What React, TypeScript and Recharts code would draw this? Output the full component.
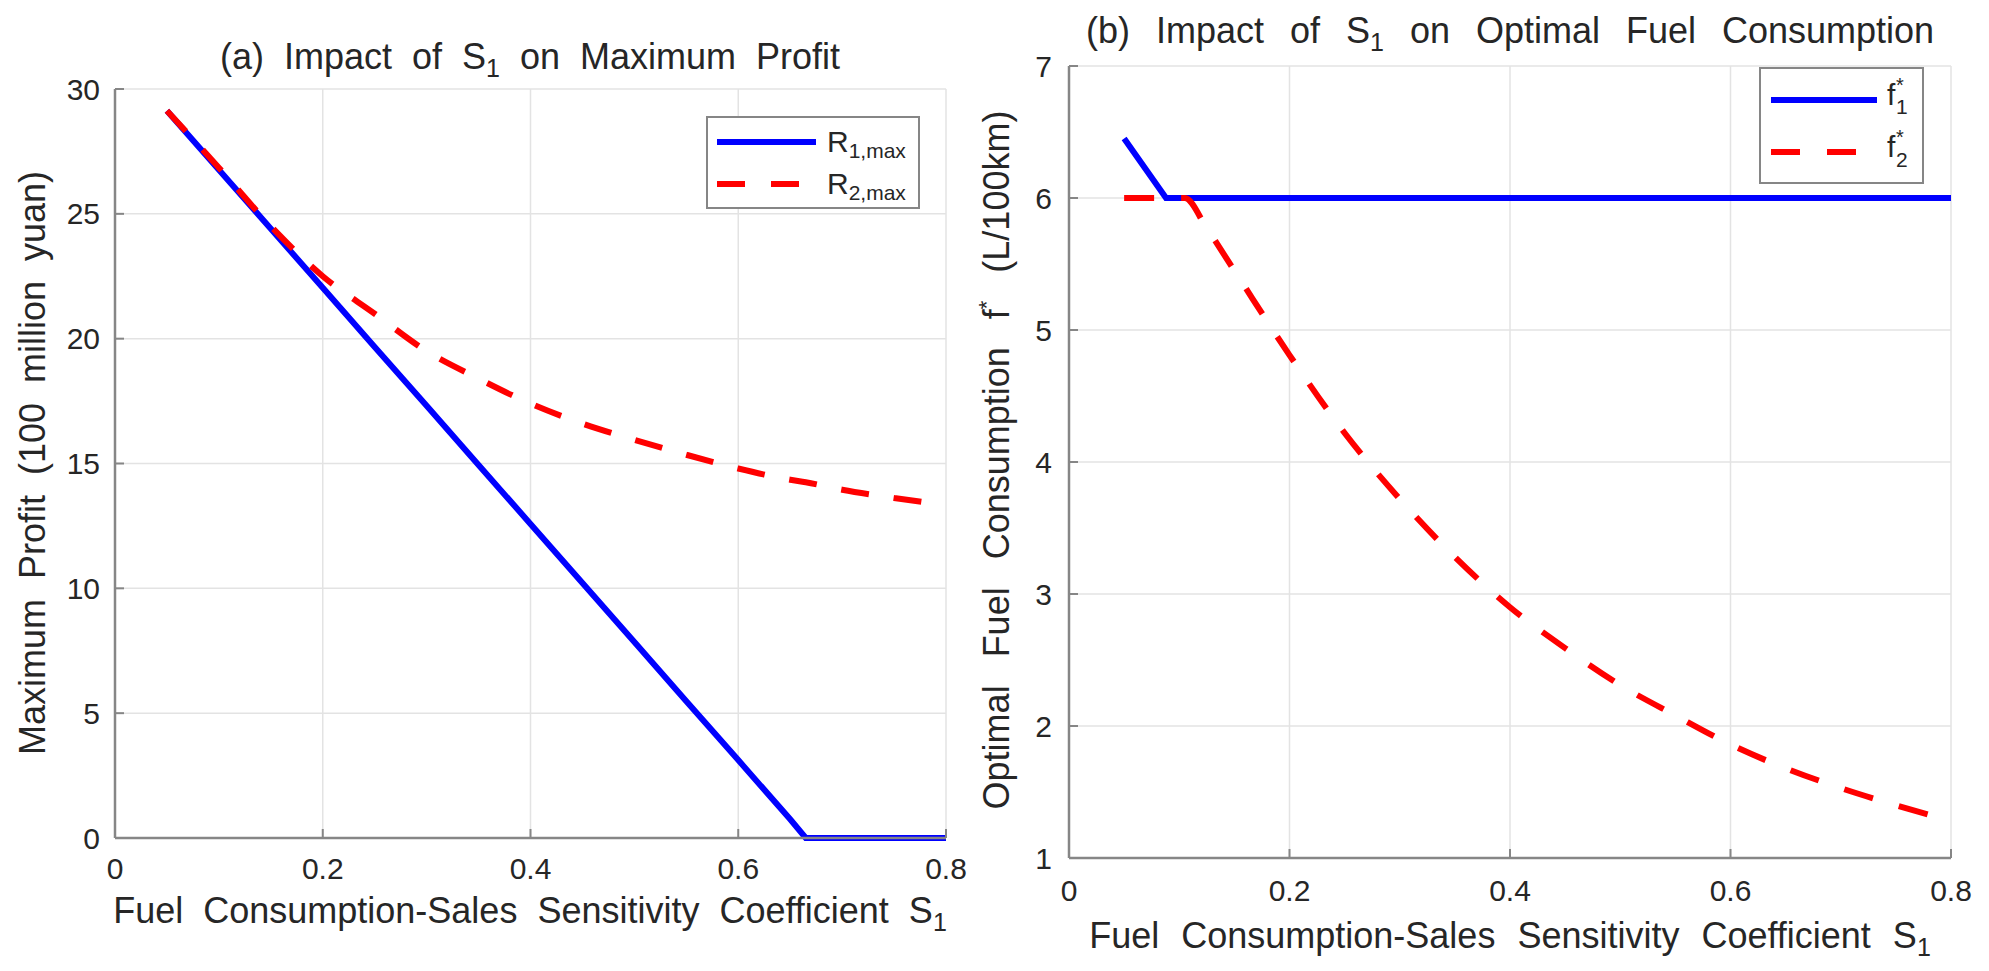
import { CartesianGrid, Line, LineChart, XAxis, YAxis } from "recharts";

const FONT = '"Liberation Sans", Arial, Helvetica, sans-serif';
const TEXT = "#262626";
const AXIS = "#868686";
const GRID = "#e3e3e3";
const BLUE = "#0000ff";
const RED = "#ff0000";

// axis ticks
const s1Ticks = [0, 0.2, 0.4, 0.6, 0.8];
const profitTicks = [0, 5, 10, 15, 20, 25, 30];
const fuelTicks = [1, 2, 3, 4, 5, 6, 7];

// (a) maximum profit, 100 million yuan
const profitS1 = [0.05, 0.1, 0.15, 0.2, 0.25, 0.3, 0.35, 0.4, 0.45, 0.5, 0.55, 0.6, 0.65, 0.665, 0.7, 0.75, 0.8];
const r1Max = [29.13, 26.77, 24.4, 22.04, 19.67, 17.31, 14.94, 12.58, 10.21, 7.85, 5.48, 3.12, 0.75, 0, 0, 0, 0];
const r2Max = [29.13, 26.85, 24.5, 22.5, 21.0, 19.5, 18.4, 17.4, 16.6, 15.95, 15.35, 14.8, 14.35, 14.25, 13.95, 13.62, 13.33];

// (b) optimal fuel consumption, L/100km
const fuel1S1 = [0.05, 0.088, 0.1, 0.2, 0.3, 0.4, 0.5, 0.6, 0.7, 0.8];
const fuel1 = [6.45, 6.0, 6.0, 6.0, 6.0, 6.0, 6.0, 6.0, 6.0, 6.0];
const fuel2S1 = [0.05, 0.075, 0.105, 0.125, 0.15, 0.2, 0.25, 0.3, 0.35, 0.4, 0.45, 0.5, 0.55, 0.6, 0.65, 0.7, 0.75, 0.8];
const fuel2 = [6.0, 6.0, 6.0, 5.77, 5.45, 4.81, 4.22, 3.72, 3.28, 2.9, 2.59, 2.31, 2.08, 1.86, 1.68, 1.53, 1.4, 1.28];

const profitData = profitS1.map((s, i) => ({ s, r1: r1Max[i], r2: r2Max[i] }));
const fuel1Data = fuel1S1.map((s, i) => ({ s, f: fuel1[i] }));
const fuel2Data = fuel2S1.map((s, i) => ({ s, f: fuel2[i] }));

const tickStyle = { fontSize: 30, fill: TEXT, fontFamily: FONT };
const axisLine = { stroke: AXIS, strokeWidth: 2.5 };
const tickLine = { stroke: AXIS, strokeWidth: 2 };

function ProfitChart() {
  return (
    <LineChart
      width={990}
      height={971}
      data={profitData}
      margin={{ top: 89, right: 44, bottom: 93, left: 55 }}
    >
      <CartesianGrid stroke={GRID} strokeWidth={1.5} />
      <XAxis
        dataKey="s"
        type="number"
        domain={[0, 0.8]}
        ticks={s1Ticks}
        height={40}
        axisLine={axisLine}
        tickLine={tickLine}
        tickSize={-9}
        tickMargin={29}
        tick={tickStyle}
      />
      <XAxis
        xAxisId="top"
        orientation="top"
        dataKey="s"
        type="number"
        domain={[0, 0.8]}
        ticks={s1Ticks}
        height={0}
        axisLine={axisLine}
        tickLine={tickLine}
        tickSize={-9}
        tick={false}
      />
      <YAxis
        type="number"
        domain={[0, 30]}
        ticks={profitTicks}
        width={60}
        axisLine={axisLine}
        tickLine={tickLine}
        tickSize={-9}
        tickMargin={24}
        tick={tickStyle}
      />
      <YAxis
        yAxisId="right"
        orientation="right"
        type="number"
        domain={[0, 30]}
        ticks={profitTicks}
        width={0}
        axisLine={axisLine}
        tickLine={tickLine}
        tickSize={-9}
        tick={false}
      />
      <Line
        dataKey="r1"
        type="linear"
        stroke={BLUE}
        strokeWidth={6}
        dot={false}
        isAnimationActive={false}
      />
      <Line
        dataKey="r2"
        type="monotone"
        stroke={RED}
        strokeWidth={6}
        strokeDasharray="28 25"
        dot={false}
        isAnimationActive={false}
      />
    </LineChart>
  );
}

function FuelChart() {
  return (
    <LineChart
      width={999}
      height={971}
      margin={{ top: 66, right: 38, bottom: 73, left: 19 }}
    >
      <CartesianGrid stroke={GRID} strokeWidth={1.5} />
      <XAxis
        dataKey="s"
        type="number"
        domain={[0, 0.8]}
        ticks={s1Ticks}
        height={40}
        axisLine={axisLine}
        tickLine={tickLine}
        tickSize={-9}
        tickMargin={31}
        tick={tickStyle}
        allowDuplicatedCategory={false}
      />
      <XAxis
        xAxisId="top"
        orientation="top"
        dataKey="s"
        type="number"
        domain={[0, 0.8]}
        ticks={s1Ticks}
        height={0}
        axisLine={axisLine}
        tickLine={tickLine}
        tickSize={-9}
        tick={false}
      />
      <YAxis
        type="number"
        domain={[1, 7]}
        ticks={fuelTicks}
        width={60}
        axisLine={axisLine}
        tickLine={tickLine}
        tickSize={-9}
        tickMargin={26}
        tick={tickStyle}
      />
      <YAxis
        yAxisId="right"
        orientation="right"
        type="number"
        domain={[1, 7]}
        ticks={fuelTicks}
        width={0}
        axisLine={axisLine}
        tickLine={tickLine}
        tickSize={-9}
        tick={false}
      />
      <Line
        data={fuel1Data}
        dataKey="f"
        type="linear"
        stroke={BLUE}
        strokeWidth={6}
        dot={false}
        isAnimationActive={false}
      />
      <Line
        data={fuel2Data}
        dataKey="f"
        type="monotone"
        stroke={RED}
        strokeWidth={6}
        strokeDasharray="30 27"
        dot={false}
        isAnimationActive={false}
      />
    </LineChart>
  );
}

function Labels() {
  const t = { fontFamily: FONT, fill: TEXT, fontSize: 36 };
  return (
    <svg
      width={1989}
      height={971}
      style={{ position: "absolute", left: 0, top: 0, pointerEvents: "none" }}
    >
      {/* titles */}
      <text x={530} y={69} textAnchor="middle" wordSpacing={10} {...t}>
        {"(a) Impact of S"}
        <tspan fontSize={25} dy={8}>1</tspan>
        <tspan dy={-8}>{" on Maximum Profit"}</tspan>
      </text>
      <text x={1510} y={43} textAnchor="middle" wordSpacing={16} {...t}>
        {"(b) Impact of S"}
        <tspan fontSize={25} dy={8}>1</tspan>
        <tspan dy={-8}>{" on Optimal Fuel Consumption"}</tspan>
      </text>

      {/* x labels */}
      <text x={530} y={923} textAnchor="middle" wordSpacing={10} {...t}>
        {"Fuel Consumption-Sales Sensitivity Coefficient S"}
        <tspan fontSize={25} dy={8}>1</tspan>
      </text>
      <text x={1510} y={948} textAnchor="middle" wordSpacing={12} {...t}>
        {"Fuel Consumption-Sales Sensitivity Coefficient S"}
        <tspan fontSize={25} dy={8}>1</tspan>
      </text>

      {/* y labels */}
      <text transform="translate(45,463) rotate(-90)" textAnchor="middle" wordSpacing={10} {...t}>
        Maximum Profit (100 million yuan)
      </text>
      <text transform="translate(1009,460) rotate(-90)" textAnchor="middle" wordSpacing={18} {...t}>
        {"Optimal Fuel Consumption f"}
        <tspan fontSize={22} dy={-15}>*</tspan>
        <tspan dy={15}>{" (L/100km)"}</tspan>
      </text>

      {/* legend (a) */}
      <rect x={707} y={117} width={212} height={91} fill="#fff" stroke={AXIS} strokeWidth={2} />
      <line x1={717} x2={816} y1={142} y2={142} stroke={BLUE} strokeWidth={6} />
      <line x1={717} x2={816} y1={184} y2={184} stroke={RED} strokeWidth={6} strokeDasharray="28 26" />
      <text x={827} y={152} fontFamily={FONT} fill={TEXT} fontSize={30}>
        R<tspan fontSize={21} dy={6}>1,max</tspan>
      </text>
      <text x={827} y={194} fontFamily={FONT} fill={TEXT} fontSize={30}>
        R<tspan fontSize={21} dy={6}>2,max</tspan>
      </text>

      {/* legend (b) */}
      <rect x={1760} y={68} width={163} height={115} fill="#fff" stroke={AXIS} strokeWidth={2} />
      <line x1={1771} x2={1877} y1={100} y2={100} stroke={BLUE} strokeWidth={6} />
      <line x1={1771} x2={1877} y1={152} y2={152} stroke={RED} strokeWidth={6} strokeDasharray="29 27" />
      <text x={1887} y={105} fontFamily={FONT} fill={TEXT} fontSize={30}>f</text>
      <text x={1896} y={92} fontFamily={FONT} fill={TEXT} fontSize={20}>*</text>
      <text x={1896} y={114} fontFamily={FONT} fill={TEXT} fontSize={21}>1</text>
      <text x={1887} y={157} fontFamily={FONT} fill={TEXT} fontSize={30}>f</text>
      <text x={1896} y={144} fontFamily={FONT} fill={TEXT} fontSize={20}>*</text>
      <text x={1896} y={167} fontFamily={FONT} fill={TEXT} fontSize={21}>2</text>
    </svg>
  );
}

export default function App() {
  return (
    <div
      style={{
        position: "absolute",
        left: 0,
        top: 0,
        width: 1989,
        height: 971,
        background: "#fff",
      }}
    >
      <div style={{ position: "absolute", left: 0, top: 0 }}>
        <ProfitChart />
      </div>
      <div style={{ position: "absolute", left: 990, top: 0 }}>
        <FuelChart />
      </div>
      <Labels />
    </div>
  );
}
